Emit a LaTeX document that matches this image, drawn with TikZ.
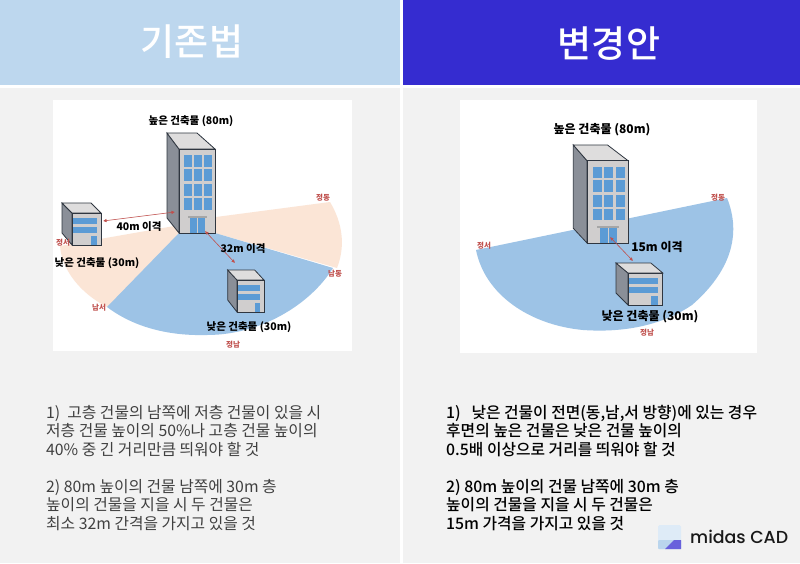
\documentclass[tikz,border=0pt]{standalone}
\usepackage{fontspec}
\usetikzlibrary{arrows.meta}
\setmainfont{Noto Sans CJK KR}
\newfontfamily\krmedium{Noto Sans CJK KR Medium}
\newfontfamily\logofont{Poppins Medium}
\definecolor{oldhead}{HTML}{BDD7EE}
\definecolor{newhead}{HTML}{352CD0}
\definecolor{panelgrey}{HTML}{F2F2F2}
\definecolor{sectorblue}{HTML}{9DC3E6}
\definecolor{sectorpeach}{HTML}{FBE5D6}
\definecolor{wallfront}{HTML}{D0CECE}
\definecolor{wallside}{HTML}{8A8F98}
\definecolor{glassblue}{HTML}{5B9BD5}
\definecolor{wallline}{HTML}{2F3640}
\definecolor{gaugered}{HTML}{C0504D}
\tikzset{
  headtext/.style={text=white,font=\krmedium\fontsize{37}{42}\selectfont},
  bodytext/.style={anchor=north west,align=left,inner sep=0pt,font=\fontsize{15.8}{18.5}\selectfont},
  buildlabel/.style={inner sep=0pt,font=\bfseries\fontsize{10.5}{12}\selectfont},
  compass/.style={inner sep=0pt,text=gaugered,font=\bfseries\fontsize{7.5}{8}\selectfont},
  gauge/.style={gaugered,line width=.6pt,{Latex[length=3.5pt,width=3.5pt]}-{Latex[length=3.5pt,width=3.5pt]}},
  tallblock/.pic={
    % Walls and roof
    \draw[wallline,line width=.8pt,fill=wallside] (0,0) -- (-12,-15) -- (-12,-100) -- (0,-84) -- cycle;
    \draw[wallline,line width=.8pt,fill=wallfront!70!white] (-12,-100) -- (18,-100) -- (36,-84) -- (0,-84) -- cycle;
    \draw[wallline,line width=.8pt,fill=wallfront] (0,0) rectangle (36,-84);
    % Windows
    \foreach \x in {5,15,25}
      \foreach \y in {-78,-64,-49,-35}
        \fill[glassblue] (\x,\y) rectangle ++(8,12);
    % Door and canopy
    \fill[glassblue] (11,0) rectangle (18,-15);
    \fill[glassblue] (19,0) rectangle (26,-15);
    \fill[gray!70] (9,-15) rectangle (28,-17);
  },
  lowblock/.pic={
    \draw[wallline,line width=.8pt,fill=wallside] (0,0) -- (-10,-12) -- (-10,-42) -- (0,-32) -- cycle;
    \draw[wallline,line width=.8pt,fill=wallfront!70!white] (-10,-42) -- (19,-42) -- (29,-32) -- (0,-32) -- cycle;
    \draw[wallline,line width=.8pt,fill=wallfront] (0,0) rectangle (29,-32);
    % Bands and door
    \fill[glassblue] (1,-27) rectangle (25,-21);
    \fill[glassblue] (1,-18) rectangle (25,-12);
    \fill[glassblue] (19,0) rectangle (25,-9);
  }
}
\begin{document}
\begin{tikzpicture}[x=1pt,y=-1pt]
\useasboundingbox (0,0) rectangle (800,563);
% Draw the two headers and the grey panels
\fill[white] (0,0) rectangle (800,563);
\fill[oldhead] (0,0) rectangle (400,85);
\fill[newhead] (403,0) rectangle (800,85);
\fill[panelgrey] (0,88) rectangle (400,563);
\fill[panelgrey] (403,88) rectangle (800,563);
\node[headtext] (oldtitle) at (192,42) {기존법};
\node[headtext] (newtitle) at (609,44) {변경안};

% Draw the left picture
\fill[white] (53,100) rectangle (352,351);
\fill[sectorpeach] (180,225) -- (60,246) .. controls (62,270) and (80,293) .. (107,307) -- (215,233) -- (337,268)
  .. controls (346,245) and (342,222) .. (330,202) -- (216,217) -- cycle;
\fill[sectorblue] (179,233) -- (107,307) .. controls (135,328) and (170,336) .. (207,335)
  .. controls (260,335) and (310,305) .. (333,268) -- (215,233) -- cycle;
\pic at (179,233) {tallblock};
\pic at (72,245) {lowblock};
\pic[xscale=.93] at (237,312) {lowblock};
% Make nodes for the ends of the arrows
\coordinate (oldnorth) at (175,212);
\coordinate (oldwest) at (103,221);
\coordinate (olddoor) at (205,231);
\coordinate (oldsouth) at (235,263);
\draw[gauge] (oldwest) to (oldnorth);
\draw[gauge] (olddoor) to (oldsouth);
\node[buildlabel] (oldhigh) at (191,121) {높은 건축물 (80m)};
\node[buildlabel] (oldgapa) at (139,227) {40m 이격};
\node[buildlabel] (oldgapb) at (243,249) {32m 이격};
\node[buildlabel] (oldlowa) at (97,263) {낮은 건축물 (30m)};
\node[buildlabel] (oldlowb) at (249,327) {낮은 건축물 (30m)};
\node[compass] (oldee) at (323,198) {정동};
\node[compass] (oldse) at (335,274) {남동};
\node[compass] (oldww) at (63,243) {정서};
\node[compass] (oldsw) at (99,308) {남서};
\node[compass] (oldss) at (233,345) {정남};

% Draw the right picture
\fill[white] (460,100) rectangle (757,353);
\fill[sectorblue] (727,198) .. controls (742,235) and (730,272) .. (692,305)
  .. controls (655,330) and (612,332) .. (583,330) .. controls (530,325) and (485,295) .. (476,250) -- cycle;
\pic[xscale=1.14,yscale=.98] at (587,243) {tallblock};
\pic[xscale=1.2] at (628,305) {lowblock};
\coordinate (newdoor) at (610,237);
\coordinate (newsouth) at (633,261);
\draw[gauge] (newdoor) to (newsouth);
\node[buildlabel,font=\bfseries\fontsize{12}{14}\selectfont] (newhigh) at (602,130) {높은 건축물 (80m)};
\node[buildlabel,font=\bfseries\fontsize{12}{14}\selectfont] (newgap) at (657,247) {15m 이격};
\node[buildlabel,font=\bfseries\fontsize{12}{14}\selectfont] (newlow) at (650,317) {낮은 건축물 (30m)};
\node[compass] (newee) at (718,198) {정동};
\node[compass] (newww) at (484,246) {정서};
\node[compass] (newss) at (647,333) {정남};

% Draw the rules under the pictures
\node[bodytext,text=black!75] (oldrules) at (46,405) {1)~~고층 건물의 남쪽에 저층 건물이 있을 시\\저층 건물 높이의 50\%나 고층 건물 높이의\\40\% 중 긴 거리만큼 띄워야 할 것\\[18.5pt]2) 80m 높이의 건물 남쪽에 30m 층\\높이의 건물을 지을 시 두 건물은\\최소 32m 간격을 가지고 있을 것};
\node[bodytext,font=\krmedium\fontsize{15.8}{18.5}\selectfont] (newrules) at (446,405) {1)~~~낮은 건물이 전면(동,남,서 방향)에 있는 경우\\후면의 높은 건물은 낮은 건물 높이의\\0.5배 이상으로 거리를 띄워야 할 것\\[18.5pt]2) 80m 높이의 건물 남쪽에 30m 층\\높이의 건물을 지을 시 두 건물은\\15m 가격을 가지고 있을 것};

% Draw the logo
\fill[oldhead!50!white,rounded corners=1.5pt] (658,525) rectangle (681,549);
\fill[sectorblue!70!white,rounded corners=1pt] (658,540) rectangle (681,549);
\fill[newhead!75!white] (665,549) -- (674,540) -- (681,540) -- (681,549) -- cycle;
\node[anchor=west,inner sep=0pt,text=black!90,font=\logofont\fontsize{17.4}{19}\selectfont] (logotext) at (690,537) {midas CAD};
\end{tikzpicture}
\end{document}
